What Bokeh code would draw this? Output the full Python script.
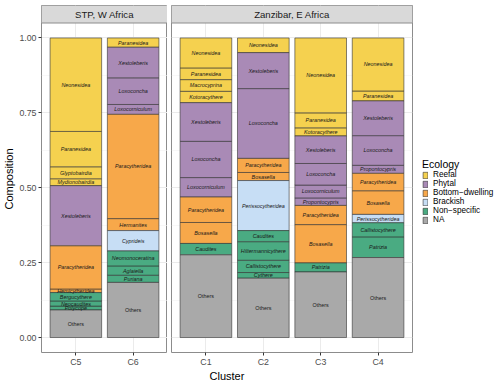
from bokeh.plotting import figure
from bokeh.models import (Range1d, FixedTicker, ColumnDataSource, Legend, LegendItem,
                          Span, Title, NumeralTickFormatter)
from bokeh.layouts import row
from bokeh.embed import file_html
from bokeh.resources import INLINE
from bokeh.core.properties import value

FONT = "Liberation Sans"

# Ecology classes and their fill colours
ecologies = ["Reefal", "Phytal", "Bottom\u2212dwelling", "Brackish", "Non\u2212specific", "NA"]
eco_colors = ["#F5D14F", "#A98AB6", "#F7A84A", "#C7DEF5", "#4AAB82", "#A9A9A9"]
REEF, PHYT, BOTT, BRAC, NONS, NA_ = ecologies

regions = ["STP, W Africa", "Zanzibar, E Africa"]
stp_clusters = ["C5", "C6"]
zan_clusters = ["C1", "C2", "C3", "C4"]

# Genus composition of each cluster, listed from the bottom of the stack upward
c5_genus = ["Others", "Polycope", "Neocaudites", "Bergucythere", "Hemicytheridea",
            "Paracytheridea", "Xestoleberis", "Mydionobairdia", "Glyptobairdia",
            "Paranesidea", "Neonesidea"]
c5_ecology = [NA_, NONS, NONS, NONS, BOTT, BOTT, PHYT, REEF, REEF, REEF, REEF]
c5_share = [0.092, 0.013, 0.017, 0.028, 0.012, 0.144, 0.201, 0.023, 0.040, 0.118, 0.312]

c6_genus = ["Others", "Puriana", "Aglaiella", "Neomonoceratina", "Cyprideis", "Hermanites",
            "Paracytheridea", "Loxocorniculum", "Loxoconcha", "Xestoleberis", "Paranesidea"]
c6_ecology = [NA_, NONS, NONS, NONS, BRAC, BOTT, BOTT, PHYT, PHYT, PHYT, REEF]
c6_share = [0.184, 0.024, 0.031, 0.050, 0.068, 0.040, 0.348, 0.033, 0.089, 0.102, 0.031]

c1_genus = ["Others", "Caudites", "Bosasella", "Paracytheridea", "Loxocorniculum",
            "Loxoconcha", "Xestoleberis", "Kotoracythere", "Macrocyprina", "Paranesidea",
            "Neonesidea"]
c1_ecology = [NA_, NONS, BOTT, BOTT, PHYT, PHYT, PHYT, REEF, REEF, REEF, REEF]
c1_share = [0.276, 0.038, 0.070, 0.085, 0.065, 0.121, 0.129, 0.038, 0.039, 0.039, 0.100]

c2_genus = ["Others", "Cythere", "Callistocythere", "Hiltermannicythere", "Caudites",
            "Perissocytheridea", "Bosasella", "Paracytheridea", "Loxoconcha", "Xestoleberis",
            "Neonesidea"]
c2_ecology = [NA_, NONS, NONS, NONS, NONS, BRAC, BOTT, BOTT, PHYT, PHYT, REEF]
c2_share = [0.198, 0.019, 0.041, 0.062, 0.037, 0.167, 0.027, 0.047, 0.233, 0.120, 0.049]

c3_genus = ["Others", "Patrizia", "Bosasella", "Paracytheridea", "Propontocypris",
            "Loxocorniculum", "Loxoconcha", "Xestoleberis", "Kotoracythere", "Paranesidea",
            "Neonesidea"]
c3_ecology = [NA_, NONS, BOTT, BOTT, PHYT, PHYT, PHYT, PHYT, REEF, REEF, REEF]
c3_share = [0.219, 0.030, 0.128, 0.064, 0.025, 0.043, 0.072, 0.092, 0.027, 0.050, 0.250]

c4_genus = ["Others", "Patrizia", "Callistocythere", "Perissocytheridea", "Bosasella",
            "Paracytheridea", "Propontocypris", "Loxoconcha", "Xestoleberis", "Paranesidea",
            "Neonesidea"]
c4_ecology = [NA_, NONS, NONS, BRAC, BOTT, BOTT, PHYT, PHYT, PHYT, REEF, REEF]
c4_share = [0.267, 0.069, 0.047, 0.028, 0.079, 0.058, 0.027, 0.099, 0.116, 0.033, 0.177]

y_ticks = [0.0, 0.25, 0.5, 0.75, 1.0]
y_minor = [0.125, 0.375, 0.625, 0.875]

# Panel geometry (pixels) and data extents
FRAME_H = 347
STRIP_PX = 17.5
LEFT_FRAME_W = 126
RIGHT_FRAME_W = 241
GAP = 4
Y0, Y1 = -0.05, 1.05
Y_PER_PX = (Y1 - Y0) / (FRAME_H - STRIP_PX)
Y_TOP = Y1 + STRIP_PX * Y_PER_PX

BORDER = "#8C8C8C"
GRID = "#EBEBEB"


def stack(genus_lists, eco_lists, share_lists):
    bars = {e: dict(x=[], bottom=[], top=[]) for e in ecologies}
    labels = dict(x=[], y=[], text=[], style=[])
    for i, (gs, es, vs) in enumerate(zip(genus_lists, eco_lists, share_lists), start=1):
        base = 0.0
        for g, e, v in zip(gs, es, vs):
            bars[e]["x"].append(i)
            bars[e]["bottom"].append(base)
            bars[e]["top"].append(base + v)
            labels["x"].append(i)
            labels["y"].append(base + v / 2)
            labels["text"].append(g)
            labels["style"].append("normal" if g == "Others" else "italic")
            base += v
    return bars, labels


def make_panel(clusters, region, bars, labels, frame_w, min_left, min_right, show_y):
    n = len(clusters)
    p = figure(frame_width=frame_w, frame_height=FRAME_H,
               x_range=Range1d(0.4, n + 0.6), y_range=Range1d(Y0, Y_TOP),
               output_backend="svg", toolbar_location=None,
               min_border_left=min_left, min_border_right=min_right,
               min_border_top=5, min_border_bottom=28,
               background_fill_color="white", border_fill_color="white",
               outline_line_color=BORDER, outline_line_width=1)

    # grid
    p.xgrid.ticker = FixedTicker(ticks=list(range(1, n + 1)))
    p.xgrid.grid_line_color = GRID
    p.xgrid.grid_line_width = 1
    p.ygrid.ticker = FixedTicker(ticks=y_ticks, minor_ticks=y_minor)
    p.ygrid.grid_line_color = GRID
    p.ygrid.grid_line_width = 1
    p.ygrid.minor_grid_line_color = "#F3F3F3"
    p.ygrid.minor_grid_line_width = 0.6

    # x axis with cluster names
    xa = p.xaxis[0]
    xa.ticker = FixedTicker(ticks=list(range(1, n + 1)))
    xa.major_label_overrides = {i + 1: c for i, c in enumerate(clusters)}
    xa.axis_line_color = None
    xa.major_tick_out = 3
    xa.major_tick_in = 0
    xa.minor_tick_out = 0
    xa.minor_tick_in = 0
    xa.major_tick_line_color = "#333333"
    xa.major_label_text_font = FONT
    xa.major_label_text_font_size = "8.8px"
    xa.major_label_text_color = "#4D4D4D"
    xa.major_label_standoff = 1
    xa.axis_label_standoff = 0

    ya = p.yaxis[0]
    if show_y:
        ya.ticker = FixedTicker(ticks=y_ticks)
        ya.formatter = NumeralTickFormatter(format="0.00")
        ya.axis_line_color = None
        ya.major_tick_out = 3
        ya.major_tick_in = 0
        ya.minor_tick_out = 0
        ya.minor_tick_in = 0
        ya.major_tick_line_color = "#333333"
        ya.major_label_text_font = FONT
        ya.major_label_text_font_size = "8.8px"
        ya.major_label_text_color = "#4D4D4D"
        ya.major_label_standoff = 2
        ya.axis_label = "Composition"
        ya.axis_label_text_font = FONT
        ya.axis_label_text_font_size = "11px"
        ya.axis_label_text_font_style = "normal"
        ya.axis_label_text_color = "black"
        ya.axis_label_standoff = 1
    else:
        ya.visible = False

    # stacked bars, one renderer per ecology class
    renderers = {}
    for eco, col in zip(ecologies, eco_colors):
        src = ColumnDataSource(bars[eco])
        renderers[eco] = p.vbar(x="x", width=0.9, bottom="bottom", top="top", source=src,
                                fill_color=col, line_color="#333333", line_width=0.6)

    # genus names inside the segments
    p.text(x="x", y="y", text="text", source=ColumnDataSource(labels),
           text_font=value(FONT), text_font_size="5.4px", text_font_style="style",
           text_align="center", text_baseline="middle", text_color="#1A1A1A")

    # facet strip
    p.quad(left=[0.4], right=[n + 0.6], bottom=[Y1], top=[Y_TOP],
           fill_color="#D9D9D9", line_color=None)
    p.add_layout(Span(location=Y1, dimension="width", line_color=BORDER, line_width=1))
    p.text(x=[(n + 1) / 2], y=[(Y1 + Y_TOP) / 2], text=[region],
           text_font=value(FONT), text_font_size="9.6px", text_color="#1A1A1A",
           text_align="center", text_baseline="middle")
    return p, renderers


stp_bars, stp_labels = stack([c5_genus, c6_genus], [c5_ecology, c6_ecology],
                             [c5_share, c6_share])
zan_bars, zan_labels = stack([c1_genus, c2_genus, c3_genus, c4_genus],
                             [c1_ecology, c2_ecology, c3_ecology, c4_ecology],
                             [c1_share, c2_share, c3_share, c4_share])

p_left, _ = make_panel(stp_clusters, regions[0], stp_bars, stp_labels,
                       LEFT_FRAME_W, 39, 0, True)
p_right, rends = make_panel(zan_clusters, regions[1], zan_bars, zan_labels,
                            RIGHT_FRAME_W, GAP, 90, False)

# legend
legend = Legend(items=[LegendItem(label=e, renderers=[rends[e]]) for e in ecologies],
                location=(10, 128), orientation="vertical",
                title="Ecology", title_text_font=FONT, title_text_font_size="10.5px",
                title_text_font_style="normal", title_text_color="black", title_standoff=0,
                label_text_font=FONT, label_text_font_size="8.2px", label_text_color="black",
                glyph_width=6, glyph_height=8, label_height=8, label_standoff=5,
                spacing=0, padding=0, margin=0,
                border_line_color=None, background_fill_alpha=0)
p_right.add_layout(legend, "right")

# shared x axis title, centred under both panels (offset from the right panel's left edge)
title_w = 35
centre_offset = (LEFT_FRAME_W + GAP + RIGHT_FRAME_W) / 2 - (LEFT_FRAME_W + GAP)
p_right.add_layout(Title(text="Cluster", align="left", vertical_align="top",
                         offset=centre_offset - title_w / 2,
                         standoff=0, text_font=FONT, text_font_size="11px",
                         text_font_style="normal", text_color="black"), "below")

layout = row(p_left, p_right)
open("out.html", "w").write(file_html(layout, INLINE))
